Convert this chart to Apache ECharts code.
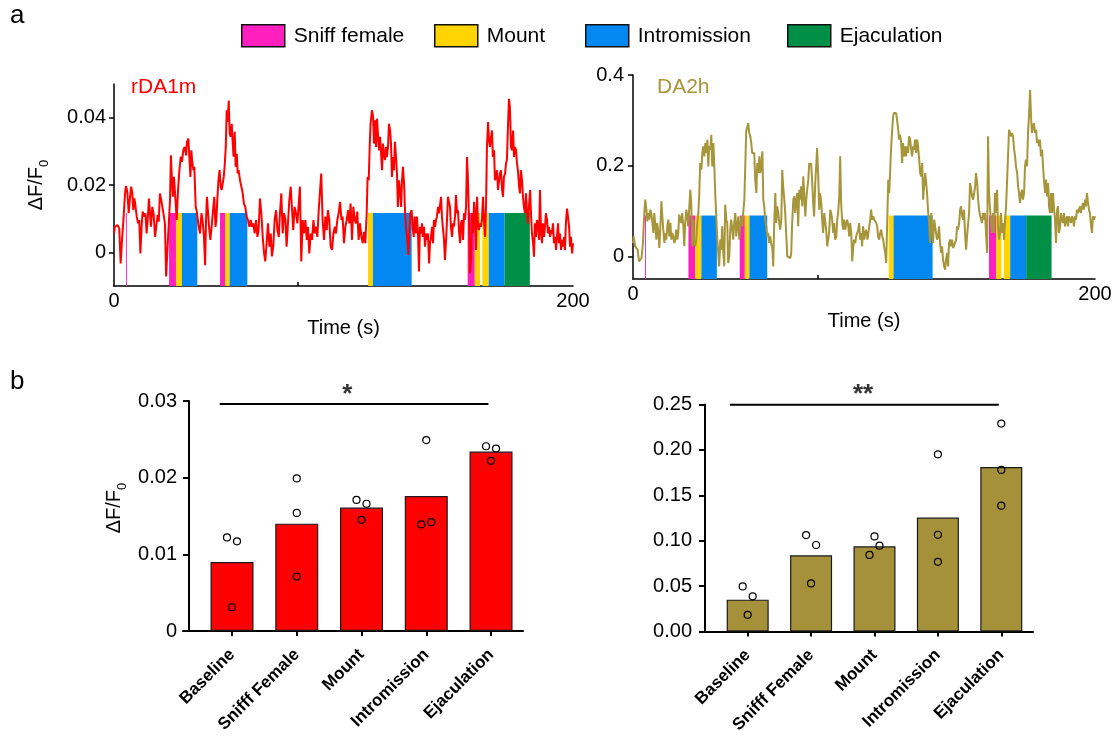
<!DOCTYPE html>
<html><head><meta charset="utf-8">
<script src="https://cdn.jsdelivr.net/npm/echarts@6/dist/echarts.min.js"></script>
<style>html,body{margin:0;padding:0;background:#fff}#c{width:1116px;height:736px}</style>
</head><body><div id="c"></div>
<script>
// ---------- DATA ----------
// rDA1m trace: [time (s), dF/F0]
const traceRDA1m = [[0.0,0.0056],[0.4,0.0076],[1.5,0.0081],[2.3,0.0071],[2.9,-0.0033],[3.5,0.0037],[4.1,0.0096],[4.8,0.0175],[5.2,0.0197],[5.8,0.0180],[6.4,0.0116],[7.0,0.0165],[7.5,0.0195],[8.0,0.0175],[8.4,0.0125],[8.9,0.0160],[9.3,0.0140],[9.9,0.0106],[10.5,0.0086],[11.0,0.0096],[11.5,-0.0003],[12.1,0.0086],[12.5,0.0121],[13.1,0.0106],[13.7,0.0116],[14.2,0.0056],[14.7,0.0096],[15.2,0.0160],[15.7,0.0116],[16.1,0.0076],[16.7,0.0135],[17.3,0.0111],[17.9,0.0046],[18.4,0.0076],[19.0,0.0111],[19.5,0.0091],[20.0,0.0175],[20.6,0.0155],[21.2,0.0130],[21.8,0.0135],[22.2,0.0086],[22.7,-0.0072],[23.2,-0.0003],[23.8,0.0076],[24.4,0.0155],[24.8,0.0288],[25.3,0.0205],[25.7,0.0165],[26.1,0.0224],[26.7,0.0165],[27.3,0.0096],[27.9,0.0185],[28.5,0.0244],[29.1,0.0284],[29.6,0.0269],[30.2,0.0303],[30.8,0.0313],[31.4,0.0288],[31.8,0.0328],[32.4,0.0338],[32.8,0.0343],[33.3,0.0224],[33.7,0.0303],[34.1,0.0269],[34.6,0.0244],[35.0,0.0254],[35.6,0.0135],[36.0,0.0125],[36.5,0.0130],[36.9,0.0076],[37.5,0.0056],[38.1,0.0116],[38.6,0.0096],[39.2,0.0046],[39.7,-0.0038],[40.1,0.0096],[40.5,0.0165],[41.0,0.0116],[41.4,0.0076],[42.0,0.0037],[42.6,0.0081],[43.1,0.0121],[43.7,0.0165],[44.2,0.0076],[44.6,0.0096],[45.0,0.0155],[45.5,0.0214],[46.0,0.0244],[46.5,0.0195],[46.9,0.0185],[47.4,0.0205],[47.8,0.0224],[48.2,0.0254],[48.7,0.0313],[49.1,0.0422],[49.5,0.0387],[50.0,0.0451],[50.4,0.0353],[50.8,0.0343],[51.3,0.0382],[51.7,0.0328],[52.1,0.0284],[52.6,0.0358],[53.0,0.0254],[53.5,0.0293],[53.9,0.0234],[54.3,0.0244],[54.9,0.0214],[55.5,0.0195],[56.1,0.0175],[56.6,0.0145],[57.2,0.0135],[57.8,0.0106],[58.4,0.0096],[59.0,0.0076],[59.6,0.0096],[60.1,0.0076],[60.7,0.0086],[61.3,0.0056],[61.9,0.0096],[62.5,0.0046],[63.0,0.0066],[63.6,0.0160],[64.2,0.0116],[64.8,0.0046],[65.4,-0.0003],[65.9,-0.0027],[66.5,0.0027],[67.1,0.0086],[67.7,0.0017],[68.3,0.0056],[68.8,-0.0012],[69.4,0.0017],[70.0,0.0096],[70.6,0.0125],[71.2,0.0066],[71.8,0.0046],[72.3,0.0116],[72.9,0.0175],[73.5,0.0056],[74.1,0.0116],[74.7,0.0096],[75.2,0.0017],[75.8,0.0086],[76.4,0.0155],[77.0,0.0195],[77.6,0.0125],[78.1,0.0066],[78.7,0.0135],[79.3,0.0116],[79.9,0.0086],[80.5,0.0145],[81.0,0.0195],[81.6,-0.0027],[82.2,0.0096],[82.8,0.0056],[83.4,0.0096],[84.0,0.0037],[84.5,0.0076],[85.1,-0.0003],[85.7,0.0056],[86.3,0.0037],[86.9,0.0096],[87.4,0.0056],[88.0,0.0076],[88.6,0.0046],[89.2,0.0125],[89.8,0.0185],[90.3,0.0234],[90.9,0.0096],[91.5,0.0037],[92.1,0.0106],[92.7,0.0066],[93.2,0.0125],[93.8,0.0096],[94.4,0.0017],[95.0,0.0007],[95.6,0.0056],[96.2,0.0076],[96.7,0.0056],[97.3,0.0096],[97.9,0.0116],
[98.5,0.0150],[99.1,0.0096],[99.6,0.0106],[100.2,0.0027],[100.8,0.0076],[101.4,0.0096],[102.0,0.0125],[102.5,0.0086],[103.1,0.0145],[103.7,0.0037],[104.3,0.0135],[104.9,0.0096],[105.4,0.0086],[106.0,0.0121],[106.6,0.0037],[107.2,0.0086],[107.8,0.0046],[108.4,0.0027],[108.9,0.0061],[109.5,0.0027],[110.1,0.0116],[110.5,0.0224],[111.0,0.0214],[111.4,0.0313],[111.8,0.0382],[112.4,0.0422],[112.9,0.0402],[113.3,0.0323],[113.7,0.0392],[114.2,0.0313],[114.6,0.0397],[115.0,0.0353],[115.5,0.0303],[115.9,0.0343],[116.3,0.0303],[116.8,0.0244],[117.2,0.0323],[117.6,0.0293],[118.1,0.0274],[118.5,0.0313],[118.9,0.0283],[119.4,0.0313],[119.8,0.0382],[120.3,0.0362],[120.7,0.0323],[121.1,0.0224],[121.6,0.0283],[122.0,0.0244],[122.4,0.0328],[122.9,0.0283],[123.3,0.0234],[123.7,0.0135],[124.2,0.0214],[124.6,0.0185],[125.1,0.0135],[125.5,0.0214],[125.9,0.0254],[126.4,0.0204],[126.8,0.0125],[127.2,0.0076],[127.7,0.0046],[128.3,-0.0008],[128.7,0.0056],[129.1,0.0116],[129.7,0.0125],[130.1,0.0076],[130.6,0.0046],[131.0,0.0106],[131.6,0.0056],[132.0,0.0106],[132.5,0.0046],[132.9,-0.0057],[133.3,0.0076],[133.8,0.0056],[134.2,0.0086],[134.6,0.0046],[135.1,0.0076],[135.5,0.0017],[136.0,0.0056],[136.4,0.0037],[136.8,0.0056],[137.3,-0.0033],[137.7,0.0027],[138.1,0.0046],[138.6,0.0076],[139.0,0.0027],[139.4,0.0096],[139.9,0.0076],[140.3,0.0096],[140.7,0.0106],[141.2,0.0135],[141.6,0.0116],[142.0,0.0116],[142.5,0.0165],[142.9,0.0106],[143.4,0.0066],[143.8,0.0037],[144.2,-0.0023],[144.7,0.0037],[145.1,0.0096],[145.5,0.0165],[146.0,0.0170],[146.4,0.0135],[146.8,0.0076],[147.3,0.0046],[147.7,0.0086],[148.1,0.0076],[148.6,0.0106],[149.0,0.0170],[149.5,0.0116],[149.9,0.0125],[150.3,0.0066],[150.8,0.0027],[151.2,0.0086],[151.6,0.0096],[152.1,0.0037],[152.5,0.0116],[152.9,0.0096],[153.4,0.0135],[153.8,0.0283],[154.2,0.0224],[154.7,0.0096],[155.1,-0.0062],[155.6,-0.0023],[156.0,0.0116],[156.4,0.0056],[156.9,0.0150],[157.3,0.0116],[157.7,0.0007],[158.2,0.0165],[158.6,0.0086],[159.0,0.0066],[159.5,0.0086],[159.9,0.0076],[160.3,0.0096],[160.8,0.0165],[161.2,0.0096],[161.7,0.0046],[162.1,0.0135],[162.5,0.0313],[163.0,0.0387],[163.4,0.0333],[163.8,0.0313],[164.3,0.0343],[164.7,0.0362],[165.1,0.0283],[165.6,0.0303],[166.0,0.0214],[166.4,0.0224],[166.9,0.0244],[167.3,0.0185],[167.8,0.0214],[168.2,0.0234],[168.6,0.0244],[169.1,0.0185],[169.5,0.0165],[169.9,0.0224],[170.4,0.0234],[170.8,0.0264],[171.2,0.0274],[171.7,0.0382],[172.1,0.0456],[172.5,0.0432],[173.0,0.0313],[173.4,0.0303],[173.9,0.0362],[174.3,0.0283],[174.7,0.0313],[175.2,0.0303],[175.6,0.0264],[176.0,0.0244],[176.5,0.0195],[176.9,0.0175],[177.3,0.0244],[177.8,0.0214],[178.2,0.0165],[178.6,0.0135],[179.1,0.0116],[179.5,0.0175],[180.0,0.0116],[180.4,0.0086],[180.8,0.0135],[181.3,0.0185],[181.7,0.0116],[182.1,0.0056],[182.6,0.0027],[183.0,-0.0013],[183.4,0.0086],[183.9,0.0046],[184.3,0.0096],[184.8,0.0086],[185.2,0.0037],[185.6,0.0185],[186.1,0.0056],[186.5,0.0027],[186.9,0.0086],[187.4,0.0046],[187.8,0.0076],[188.2,0.0116],[188.7,0.0096],[189.1,0.0056],[189.5,0.0076],[190.0,0.0046],[190.4,0.0066],[190.8,0.0056],[191.3,0.0086],[191.7,0.0027],[192.2,0.0046],[192.6,0.0007],[193.0,0.0046],[193.5,0.0086],[193.9,0.0027],[194.3,0.0056],[194.8,0.0007],[195.2,0.0037],[195.6,0.0017],[196.1,0.0046],[196.5,0.0007],[196.9,0.0086],[197.4,0.0130],[197.8,0.0106],[198.3,0.0076],[198.7,0.0017],[199.1,0.0046],[199.6,-0.0003],[200.0,0.0027]];

// DA2h trace: [time (s), dF/F0]
const traceDA2h = [[0.0,0.0294],[0.3,0.0441],[0.9,0.0221],[1.4,0.0184],[2.0,0.0147],[2.6,-0.0110],[3.2,-0.0147],[3.7,-0.0037],[4.3,0.0294],[4.9,0.0956],[5.3,0.1250],[5.8,0.1029],[6.2,0.0772],[6.6,0.0956],[7.1,0.0809],[7.5,0.1029],[7.9,0.0956],[8.4,0.0735],[8.8,0.0515],[9.2,0.0956],[9.7,0.0662],[10.1,0.0368],[10.5,0.0735],[11.0,0.0515],[11.4,0.0184],[11.8,0.0588],[12.3,0.1213],[12.7,0.0882],[13.1,0.0588],[13.6,0.0294],[14.0,0.0515],[14.4,0.0368],[14.9,0.0698],[15.3,0.0809],[15.7,0.0441],[16.2,0.0735],[16.6,0.0368],[17.0,0.0515],[17.4,0.0441],[17.9,0.0294],[18.3,0.0368],[18.7,0.0588],[19.2,0.0368],[19.6,0.0515],[20.0,0.0919],[20.5,0.0956],[20.9,0.0735],[21.3,0.0956],[21.8,0.0662],[22.2,0.0221],[22.6,0.0735],[23.1,0.1029],[23.5,0.0882],[23.9,0.0662],[24.4,0.1103],[24.8,0.1470],[25.2,0.1176],[25.7,0.0221],[26.1,0.0809],[26.5,0.0294],[27.0,0.0221],[27.4,0.0368],[27.8,0.0735],[28.3,0.0956],[28.7,0.1397],[29.1,0.2058],[29.6,0.1911],[30.0,0.2279],[30.4,0.2426],[30.9,0.2205],[31.3,0.2499],[31.7,0.2279],[32.2,0.2573],[32.6,0.1985],[33.0,0.2426],[33.5,0.2352],[33.9,0.2683],[34.3,0.1985],[34.8,0.2499],[35.2,0.1985],[35.6,0.1397],[36.1,0.0809],[36.5,0.0368],[36.9,0.0074],[37.3,-0.0221],[37.8,0.0368],[38.2,0.0147],[38.6,0.0662],[39.1,0.0074],[39.5,-0.0221],[39.9,0.1139],[40.4,0.0809],[40.8,0.0735],[41.2,-0.0147],[41.7,0.0000],[42.1,0.0588],[42.5,0.0809],[43.0,0.0845],[43.4,0.0368],[43.8,0.0735],[44.3,0.0956],[44.7,0.0441],[45.1,0.0662],[45.6,0.0882],[46.0,0.0368],[46.4,0.0662],[46.9,0.0882],[47.3,0.0662],[47.7,0.0956],[48.2,0.1250],[48.6,0.1985],[49.0,0.2757],[49.5,0.2793],[49.9,0.2940],[50.3,0.2720],[50.8,0.2646],[51.2,0.2499],[51.6,0.2279],[52.1,0.2242],[52.5,0.2279],[52.9,0.1691],[53.4,0.1397],[53.8,0.2058],[54.2,0.1838],[54.7,0.2205],[55.1,0.1838],[55.5,0.1985],[56.0,0.2315],[56.4,0.1250],[56.8,0.1103],[57.2,0.0809],[57.7,0.0662],[58.1,0.0441],[58.5,0.0515],[59.0,0.0294],[59.4,0.0441],[59.8,0.0294],[60.3,0.0184],[60.7,-0.0221],[61.1,0.0662],[61.6,0.1397],[62.0,0.0735],[62.4,0.1103],[62.9,0.0956],[63.3,0.0735],[63.7,0.0588],[64.2,0.0809],[64.6,0.1911],[65.0,0.1544],[65.5,0.1250],[65.9,0.0956],[66.3,0.0515],[66.8,0.0000],[67.2,-0.0037],[67.6,0.0000],[68.1,-0.0037],[68.5,0.0074],[68.9,0.0735],[69.4,0.1250],[69.8,0.1323],[70.2,0.0956],[70.7,0.1250],[71.1,0.1397],[71.5,0.0662],[72.0,0.1470],[72.4,0.1250],[72.8,0.1544],[73.3,0.1103],[73.7,0.1764],[74.1,0.1397],[74.6,0.0882],[75.0,0.1250],[75.4,0.1470],[75.9,0.1691],[76.3,0.2058],[76.7,0.1985],[77.1,0.2058],[77.6,0.1617],[78.0,0.1176],[78.4,0.0882],[78.9,0.1617],[79.3,0.1985],[79.7,0.2389],[80.2,0.1764],[80.6,0.1029],[81.0,0.1397],[81.5,0.1176],[81.9,0.0809],[82.3,0.0515],[82.8,0.0956],[83.2,0.0956],[83.6,0.0588],[84.1,0.0221],[84.5,0.0221],[84.9,0.0515],[85.4,0.1029],[85.8,0.0956],[86.2,0.0809],[86.7,0.0515],[87.1,0.0735],[87.5,0.0368],[88.0,0.0441],[88.4,0.0809],[88.8,0.0956],[89.3,0.1323],[89.7,0.2205],[90.1,0.1176],[90.6,0.0735],[91.0,0.0588],[91.4,0.0809],[91.9,0.0588],[92.3,0.0735],[92.7,0.0809],[93.2,0.0662],[93.6,0.0441],[94.0,0.0735],[94.5,0.0515],[94.9,-0.0110],[95.3,0.0184],[95.7,0.0368],[96.2,0.0294],[96.6,0.0441],[97.0,0.0404],[97.5,0.0588],[97.9,0.0735],[98.3,0.0368],[98.8,0.0515],[99.2,0.0221],[99.6,0.0662],[100.1,0.0368],[100.5,0.0515],[100.9,0.0588],
[101.5,0.0368],[102.1,0.0588],[102.7,0.0809],[103.1,0.1029],[103.5,0.0809],[104.0,0.0882],[104.4,0.0809],[104.8,0.0809],[105.3,0.0735],[105.7,0.0662],[106.1,0.0441],[106.6,0.0368],[107.0,0.0515],[107.4,0.0588],[107.9,0.0441],[108.3,0.0368],[108.7,0.0221],[109.2,0.0074],[109.6,-0.0147],[110.0,0.0662],[110.5,0.1691],[110.9,0.1397],[111.3,0.1838],[111.7,0.2352],[112.2,0.2793],[112.6,0.3087],[113.0,0.3161],[113.5,0.3124],[113.9,0.3161],[114.3,0.3014],[114.8,0.2793],[115.2,0.2573],[115.6,0.2683],[116.1,0.2499],[116.5,0.2058],[116.9,0.2499],[117.4,0.2205],[117.8,0.2426],[118.2,0.2205],[118.7,0.2426],[119.1,0.2279],[119.5,0.2646],[120.0,0.2573],[120.4,0.2352],[120.8,0.2205],[121.3,0.2426],[121.7,0.2352],[122.1,0.2573],[122.6,0.2279],[123.0,0.2573],[123.4,0.2426],[123.9,0.2132],[124.3,0.1838],[124.7,0.1764],[125.2,0.2058],[125.6,0.1250],[126.0,0.1544],[126.5,0.1838],[126.9,0.1617],[127.3,0.1397],[127.8,0.0956],[128.2,0.0735],[128.6,0.0294],[129.1,0.0956],[129.5,0.0662],[129.9,0.0294],[130.4,0.0809],[130.8,0.0662],[131.2,0.0515],[131.6,0.0368],[132.1,0.0441],[132.5,0.0662],[132.9,0.0294],[133.4,0.0074],[133.8,0.0221],[134.2,-0.0074],[134.7,-0.0221],[135.1,-0.0294],[135.5,-0.0074],[136.0,0.0074],[136.4,-0.0221],[136.8,0.0294],[137.3,0.0368],[137.7,0.0221],[138.1,0.0368],[138.6,0.0184],[139.0,0.0147],[139.4,0.0221],[139.9,0.0368],[140.3,0.0662],[140.7,0.0588],[141.2,0.0735],[141.6,0.1029],[142.0,0.1103],[142.5,0.0882],[142.9,0.0809],[143.3,0.1029],[143.8,0.0441],[144.2,0.0147],[144.6,0.0441],[145.1,0.0735],[145.5,0.0956],[145.9,0.1617],[146.4,0.1470],[146.8,0.1323],[147.2,0.1250],[147.7,0.1397],[148.1,0.1544],[148.5,0.1838],[149.0,0.1617],[149.4,0.1250],[149.8,0.1029],[150.3,0.0882],[150.7,0.0809],[151.1,0.0735],[151.5,0.0956],[152.0,0.0809],[152.4,0.0956],[152.8,0.0515],[153.3,0.0074],[153.7,0.2646],[154.1,0.1397],[154.6,0.1029],[155.0,0.0735],[155.4,0.0515],[155.9,0.0956],[156.3,0.0515],[156.7,0.1397],[157.2,0.0956],[157.6,0.1470],[158.0,0.0662],[158.5,0.0368],[158.9,0.0515],[159.3,0.0956],[159.8,0.0515],[160.2,0.0735],[160.6,0.0368],[161.1,0.0809],[161.5,0.1103],[161.9,0.1617],[162.4,0.2279],[162.8,0.2793],[163.2,0.2793],[163.7,0.2646],[164.1,0.2720],[164.5,0.2646],[165.0,0.2352],[165.4,0.2205],[165.8,0.1985],[166.3,0.1838],[166.7,0.1544],[167.1,0.1397],[167.5,0.1176],[168.0,0.1397],[168.4,0.1470],[168.8,0.1250],[169.3,0.1397],[169.7,0.1985],[170.1,0.2132],[170.6,0.1985],[171.0,0.2720],[171.4,0.3087],[171.9,0.3675],[172.3,0.3087],[172.7,0.2720],[173.2,0.2867],[173.6,0.2940],[174.0,0.2720],[174.5,0.2793],[174.9,0.2499],[175.3,0.2573],[175.8,0.2426],[176.2,0.2573],[176.6,0.2205],[177.1,0.2352],[177.5,0.1985],[177.9,0.1691],[178.4,0.1397],[178.8,0.1691],[179.2,0.1323],[179.7,0.1617],[180.1,0.1103],[180.5,0.0956],[181.0,0.1397],[181.4,0.0956],[181.8,0.1397],[182.3,0.1029],[182.7,0.0809],[183.1,0.0294],[183.6,0.1029],[184.0,0.1103],[184.4,0.0515],[184.9,0.0662],[185.3,0.0956],[185.7,0.0809],[186.2,0.0735],[186.6,0.0956],[187.0,0.0662],[187.5,0.0809],[187.9,0.0882],[188.3,0.0662],[188.7,0.0882],[189.2,0.0809],[189.6,0.0735],[190.0,0.0882],[190.5,0.0809],[190.9,0.0662],[191.3,0.0882],[191.8,0.0809],[192.2,0.1029],[192.6,0.0956],[193.1,0.1029],[193.5,0.1103],[193.9,0.0956],[194.4,0.1103],[194.8,0.1176],[195.2,0.1029],[195.7,0.1250],[196.1,0.1103],[196.5,0.1397],[197.0,0.1176],[197.4,0.1029],[197.8,0.0956],[198.3,0.0662],[198.7,0.0515],[199.1,0.0882],[199.6,0.0809],[200.0,0.0882]];

// Behaviour episodes [start s, end s]
const sniffEpisodes = [[5.2,5.6],[24.0,27.0],[46.2,48.4],[154.1,157.2]];
const mountEpisodes = [[27.0,29.6],[48.4,50.4],[110.7,112.8],[157.2,159.5],[160.5,163.3]];
const intromissionEpisodes = [[29.6,36.3],[50.4,58.1],[112.8,129.7],[163.3,170.2]];
const ejaculationEpisodes = [[170.2,181.2]];
const episodeTopRDA1m = 0.0117;
const episodeTopDA2h = 0.09;

// Bar panels
const categories = ['Baseline','Snifff Female','Mount','Intromission','Ejaculation'];
const meanRDA1m = [0.0090,0.0140,0.0161,0.0176,0.0234];
const dotsRDA1m = [[0.0122,0.0117,0.0031],[0.0199,0.0154,0.0071],[0.0171,0.0166,0.0145],[0.0249,0.0139,0.0142],[0.0241,0.0238,0.0222]];
const meanDA2h = [0.0350,0.0838,0.0937,0.1254,0.1812];
const dotsDA2h = [[0.0496,0.0386,0.0182],[0.1061,0.0952,0.0528],[0.1046,0.0944,0.0842],[0.1951,0.1065,0.0766],[0.2290,0.1779,0.1385]];
// which side each dot is nudged to (-1 left, 0 centre, 1 right)
const dotSideRDA1m = [[-1,1,0],[0,0,0],[-1,1,0],[0,-1,1],[-1,1,0]];
const dotSideDA2h = [[-1,1,0],[-1,1,0],[0,1,-1],[0,0,0],[0,0,0]];
const yTicksRDA1m = [0,0.02,0.04];
const yTicksDA2h = [0,0.2,0.4];
const timeLabels = [0,200];
const legendNames = ['Sniff female','Mount','Intromission','Ejaculation'];

// ---------- STYLE ----------
const RED = '#ff0000', OLIVE = '#a7953a', OLIVE_BAR = '#a4913a';
const C_SNIFF = '#ff1fbe', C_MOUNT = '#ffd400', C_INTRO = '#0388f2', C_EJAC = '#008f47';
const FONT = '"Liberation Sans", Arial, Helvetica, sans-serif';
const legendLeft = [241, 434, 585, 787];
const chart = echarts.init(document.getElementById('c'), null, {renderer:'canvas'});

const dfName = 'ΔF/F{s|0}';
function dfNameStyle(extraPad){
  return {color:'#000', fontSize:20, fontFamily:FONT, padding:[0,0,0,extraPad],
    rich:{s:{fontSize:13, fontFamily:FONT, color:'#000', verticalAlign:'bottom', padding:[0,0,-5,0]}}};
}

function episodeSeries(name, color, episodes, gi, top){
  return {
    type:'custom', name, xAxisIndex:gi, yAxisIndex:gi, z:2, animation:false,
    itemStyle:{color},
    data: episodes.map(e=>[e[0], e[1], top]),
    encode:{x:[0,1], y:2},
    renderItem:(params, api)=>{
      const p0 = api.coord([api.value(0), api.value(2)]);
      const p1 = api.coord([api.value(1), api.value(2)]);
      const cs = params.coordSys;
      return {type:'rect', shape:{x:p0[0], y:p0[1], width:p1[0]-p0[0], height:cs.y+cs.height-p0[1]}, style:{fill:color}};
    }
  };
}
function dotSeries(gi, dots, sides){
  const data = [];
  dots.forEach((arr,i)=>arr.forEach((v,j)=>data.push({value:[i,v], symbolOffset:[sides[i][j]*5,0]})));
  return {type:'scatter', xAxisIndex:gi, yAxisIndex:gi, z:6, symbol:'circle', symbolSize:7, clip:false, animation:false,
    itemStyle:{color:'rgba(0,0,0,0)', borderColor:'#000', borderWidth:1.2, opacity:1}, data};
}
function traceXAxis(gi){
  return {type:'value', gridIndex:gi, min:0, max:200,
    axisLine:{show:true, onZero:false, lineStyle:{color:'#000', width:1.5}},
    axisTick:{show:true, customValues:[80], inside:true, length:4, lineStyle:{color:'#000', width:1.5}},
    axisLabel:{customValues:timeLabels, color:'#000', fontSize:20, fontFamily:FONT, margin:5},
    splitLine:{show:false},
    name:'Time (s)', nameLocation:'middle', nameGap:32, nameTextStyle:{color:'#000', fontSize:20, fontFamily:FONT}};
}
function barXAxis(gi, min, max){
  return {type:'value', gridIndex:gi, min, max,
    axisLine:{show:true, onZero:false, lineStyle:{color:'#000', width:2}},
    axisTick:{show:true, customValues:[0,1,2,3,4], length:5, lineStyle:{color:'#000', width:2}},
    axisLabel:{customValues:[0,1,2,3,4], formatter:v=>categories[Math.round(v)], rotate:45, color:'#000', fontSize:17, fontWeight:'bold', fontFamily:FONT, margin:21},
    splitLine:{show:false}};
}

const option = {
  backgroundColor:'#fff',
  animation:false,
  textStyle:{fontFamily:FONT},
  legend: legendNames.map((n,i)=>({left:legendLeft[i], top:24, padding:0, itemWidth:43, itemHeight:22, icon:'rect',
    itemStyle:{borderColor:'#111', borderWidth:1.5},
    textStyle:{color:'#000', fontSize:21, fontFamily:FONT, padding:[0,0,0,4]},
    data:[n], selectedMode:false})),
  graphic:[
    {type:'text', left:10, top:3, style:{text:'a', fontSize:26, fontFamily:FONT, fill:'#000'}},
    {type:'text', left:10, top:369, style:{text:'b', fontSize:26, fontFamily:FONT, fill:'#000'}},
    {type:'text', left:131, top:77, style:{text:'rDA1m', fontSize:21, fontFamily:FONT, fill:RED}},
    {type:'text', left:657, top:77, style:{text:'DA2h', fontSize:21, fontFamily:FONT, fill:OLIVE}}
  ],
  grid:[
    {left:114, top:84, width:459, height:202},
    {left:633, top:75, width:462, height:204},
    {left:183, top:401, width:340, height:230},
    {left:700, top:404.5, width:333, height:229}
  ],
  xAxis:[traceXAxis(0), traceXAxis(1), barXAxis(2,-0.757,4.494), barXAxis(3,-0.752,4.5)],
  yAxis:[
    {type:'value', gridIndex:0, min:-0.01, max:0.05,
      axisLine:{show:true, onZero:false, lineStyle:{color:'#000', width:1.5}},
      axisTick:{show:true, customValues:yTicksRDA1m, length:5, lineStyle:{color:'#000', width:1.5}},
      axisLabel:{customValues:yTicksRDA1m, color:'#000', fontSize:20, fontFamily:FONT, margin:8, formatter:v=>v===0?'0':String(v)},
      splitLine:{show:false}, name:dfName, nameLocation:'middle', nameGap:68, nameTextStyle:dfNameStyle(0)},
    {type:'value', gridIndex:1, min:-0.05, max:0.4,
      axisLine:{show:true, onZero:false, lineStyle:{color:'#000', width:1.5}},
      axisTick:{show:true, customValues:yTicksDA2h, length:5, lineStyle:{color:'#000', width:1.5}},
      axisLabel:{customValues:yTicksDA2h, color:'#000', fontSize:20, fontFamily:FONT, margin:9, formatter:v=>v===0?'0':String(v)},
      splitLine:{show:false}},
    {type:'value', gridIndex:2, min:0, max:0.03, interval:0.01, offset:-6,
      axisLine:{show:true, onZero:false, lineStyle:{color:'#000', width:2}},
      axisTick:{show:true, length:6, lineStyle:{color:'#000', width:2}},
      axisLabel:{color:'#000', fontSize:20, fontFamily:FONT, margin:12, formatter:v=>v===0?'0':v.toFixed(2)},
      splitLine:{show:false}, name:dfName, nameLocation:'middle', nameGap:65, nameTextStyle:dfNameStyle(16)},
    {type:'value', gridIndex:3, min:0, max:0.25, interval:0.05, offset:-5,
      axisLine:{show:true, onZero:false, lineStyle:{color:'#000', width:2}},
      axisTick:{show:true, length:6, lineStyle:{color:'#000', width:2}},
      axisLabel:{color:'#000', fontSize:20, fontFamily:FONT, margin:13, formatter:v=>v.toFixed(2)},
      splitLine:{show:false}}
  ],
  series:[
    episodeSeries('Sniff female', C_SNIFF, sniffEpisodes, 0, episodeTopRDA1m),
    episodeSeries('Mount', C_MOUNT, mountEpisodes, 0, episodeTopRDA1m),
    episodeSeries('Intromission', C_INTRO, intromissionEpisodes, 0, episodeTopRDA1m),
    episodeSeries('Ejaculation', C_EJAC, ejaculationEpisodes, 0, episodeTopRDA1m),
    episodeSeries('Sniff female', C_SNIFF, sniffEpisodes, 1, episodeTopDA2h),
    episodeSeries('Mount', C_MOUNT, mountEpisodes, 1, episodeTopDA2h),
    episodeSeries('Intromission', C_INTRO, intromissionEpisodes, 1, episodeTopDA2h),
    episodeSeries('Ejaculation', C_EJAC, ejaculationEpisodes, 1, episodeTopDA2h),
    {type:'line', name:'rDA1m', xAxisIndex:0, yAxisIndex:0, data:traceRDA1m, showSymbol:false, symbol:'none', z:5,
      lineStyle:{color:RED, width:2}, itemStyle:{color:RED}},
    {type:'line', name:'DA2h', xAxisIndex:1, yAxisIndex:1, data:traceDA2h, showSymbol:false, symbol:'none', z:5,
      lineStyle:{color:OLIVE, width:2}, itemStyle:{color:OLIVE}},
    {type:'bar', xAxisIndex:2, yAxisIndex:2, barWidth:43, z:3,
      itemStyle:{color:RED, borderColor:'#1a1a1a', borderWidth:1.2},
      data:meanRDA1m.map((v,i)=>[i,v])},
    {type:'bar', xAxisIndex:3, yAxisIndex:3, barWidth:42, z:3,
      itemStyle:{color:OLIVE_BAR, borderColor:'#1a1a1a', borderWidth:1.2},
      data:meanDA2h.map((v,i)=>[i,v])},
    dotSeries(2, dotsRDA1m, dotSideRDA1m),
    dotSeries(3, dotsDA2h, dotSideDA2h),
    // significance bars
    {type:'line', xAxisIndex:2, yAxisIndex:2, data:[[-0.19,0.0296],[3.96,0.0296]], symbol:'none', clip:false, z:6,
      lineStyle:{color:'#000', width:2}},
    {type:'line', xAxisIndex:3, yAxisIndex:3, data:[[-0.28,0.2497],[3.96,0.2497]], symbol:'none', clip:false, z:6,
      lineStyle:{color:'#000', width:2}},
    {type:'scatter', xAxisIndex:2, yAxisIndex:2, data:[[1.78,0.0296]], symbolSize:1, clip:false, z:6,
      itemStyle:{color:'rgba(0,0,0,0)'},
      label:{show:true, position:'top', distance:-4, formatter:'*', color:'#000', fontSize:26, fontWeight:'bold', fontFamily:FONT}},
    {type:'scatter', xAxisIndex:3, yAxisIndex:3, data:[[1.82,0.2497]], symbolSize:1, clip:false, z:6,
      itemStyle:{color:'rgba(0,0,0,0)'},
      label:{show:true, position:'top', distance:-4, formatter:'**', color:'#000', fontSize:26, fontWeight:'bold', fontFamily:FONT}}
  ]
};
chart.setOption(option);
</script>
</body></html>
